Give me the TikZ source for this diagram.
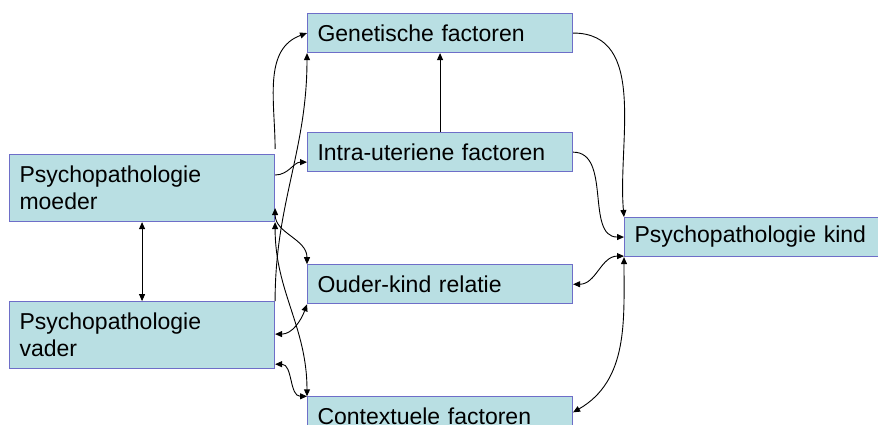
\documentclass[tikz,border=0pt]{standalone}
\usepackage{fontspec}
\setmainfont{Liberation Sans}
\usepackage{tikz}
\usetikzlibrary{arrows.meta, positioning, calc}
\usepackage{xcolor}
\definecolor{boxfill}{RGB}{185,223,227}
\definecolor{boxline}{RGB}{110,110,200}
\tikzstyle{box} = [rectangle, draw=boxline, fill=boxfill, line width=1.1pt, anchor=north west, minimum width=265pt, minimum height=39pt, inner xsep=10pt, inner ysep=0pt, text width=245pt, align=left, font=\fontsize{23}{27}\selectfont]
\tikzstyle{arrow} = [line width=0.9pt, -{Triangle[length=7pt,width=6pt]}]
\tikzstyle{both} = [line width=0.9pt, {Triangle[length=7pt,width=6pt]}-{Triangle[length=7pt,width=6pt]}]

\begin{document}
\begin{tikzpicture}[x=1pt, y=-1pt]
  \clip (0,0) rectangle (878,425);
  \node[box, minimum height=67pt] (moeder) at (9,154) {Psychopathologie\\moeder};
  \node[box, minimum height=67pt, below=79pt of moeder] (vader) {Psychopathologie\\vader};
  \node[box] (gen) at (307,13) {Genetische factoren};
  \node[box, below=79pt of gen] (intra) {Intra-uteriene factoren};
  \node[box, below=92pt of intra] (ouder) {Ouder-kind relatie};
  \node[box, below=92pt of ouder] (context) {Contextuele factoren};
  \node[box, minimum width=256pt, text width=236pt] (kind) at (624,217) {Psychopathologie kind};

  \draw[arrow] ($(moeder.north east)+(0,-5)$) to[out=90,in=200] (gen.west);
  \draw[arrow] ($(moeder.north east)+(0,21)$) to[out=0,in=180] ($(intra.west)+(0,10)$);
  \draw[arrow] (vader.north east) to[out=90,in=-90] (gen.south west);
  \draw[both] ($(moeder.south east)+(0,-14)$) to[out=-90,in=90] (ouder.north west);
  \draw[both] (moeder.south east) to[out=-90,in=90] (context.north west);
  \draw[both] ($(vader.north east)+(0,33)$) to[out=0,in=-110] (ouder.south west);
  \draw[both] ($(vader.south east)+(0,-5)$) to[out=0,in=180] (context.north west);
  \draw[both] (moeder.south) -- (vader.north);
  \draw[arrow] (intra.north) -- (gen.south);
  \draw[arrow] (gen.east) to[out=0,in=95] (kind.north west);
  \draw[arrow] (intra.east) to[out=0,in=180] (kind.west);
  \draw[both] (ouder.east) to[out=0,in=180] ($(kind.south west)+(0,-1)$);
  \draw[both] ($(context.east)+(0,-4)$) to[out=30,in=-90] (kind.south west);
\end{tikzpicture}
\end{document}
